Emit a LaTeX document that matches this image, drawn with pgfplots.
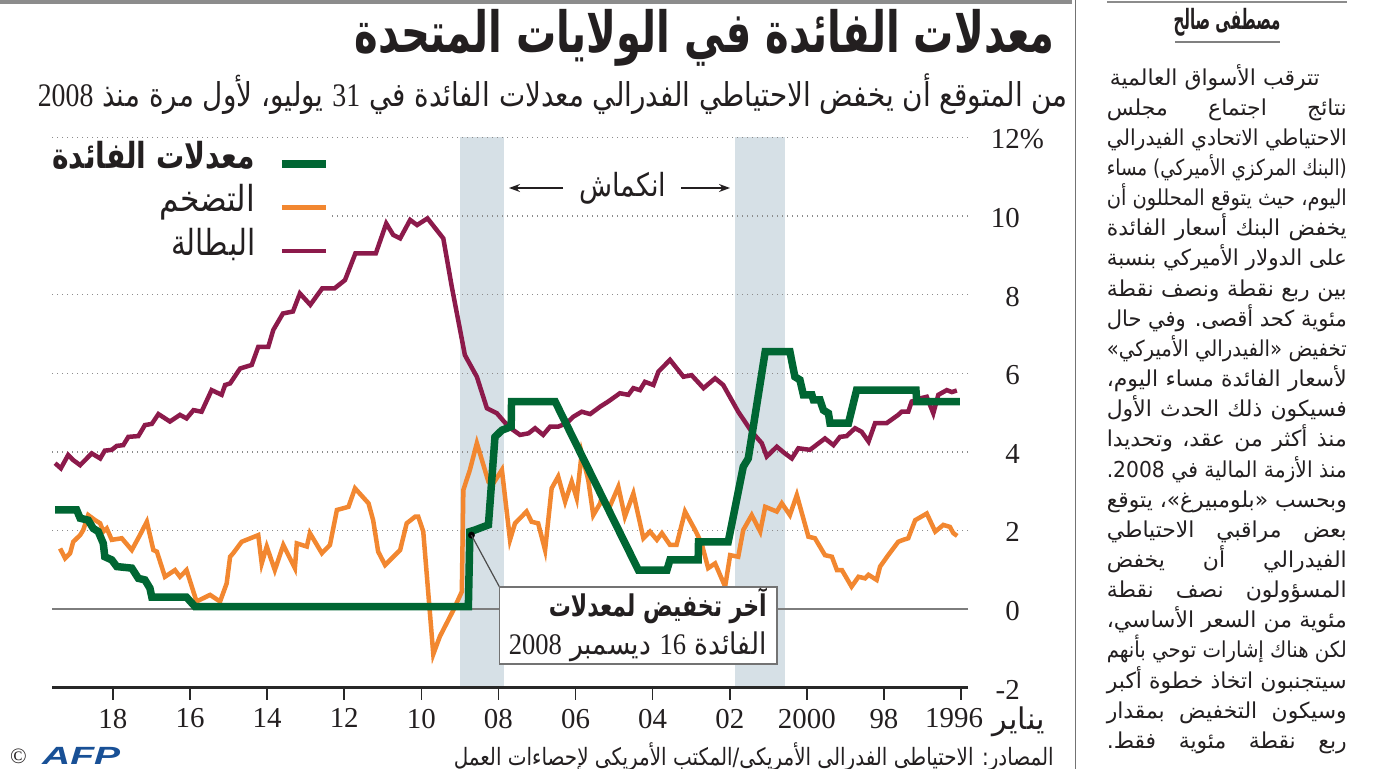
\documentclass[border=0pt]{standalone}
\usepackage{fontspec}
\usepackage{graphicx}
\usepackage{pgfplots}
\pgfplotsset{compat=1.18}
\usetikzlibrary{arrows.meta}
\setmainfont{Liberation Serif}
\setsansfont{Liberation Sans}
\newfontfamily\arabicfont[Script=Arabic]{DejaVu Sans}
\TeXXeTstate=1
\definecolor{fedgreen}{RGB}{0,102,51}
\definecolor{infl}{RGB}{242,135,48}
\definecolor{unemp}{RGB}{140,26,75}
\definecolor{bandcol}{RGB}{214,224,230}
\definecolor{gridgray}{RGB}{140,140,140}
\definecolor{zerogray}{RGB}{125,125,125}
\definecolor{txt}{RGB}{35,31,32}
\definecolor{axisdark}{RGB}{40,40,40}
\definecolor{afpblue}{RGB}{24,80,150}
\newsavebox\artbox
\newcommand\artline[4]{%
  \node[anchor=base east, inner sep=0pt, text=txt] at (#2,#1) {%
    \fontsize{22}{22}\arabicfont
    \sbox\artbox{#4}%
    \ifdim\wd\artbox>#3\relax
      \resizebox{#3}{\height}{\usebox\artbox}%
    \else
      \spaceskip=0.3em plus 1fil\relax
      \hbox to #3{#4}%
    \fi};}
\begin{document}
\begin{tikzpicture}
\begin{scope}[x=1bp,y=-1bp]
\draw[line width=3bp, black!45] (0,2) -- (1072,2);
\draw[line width=1bp, black!55] (1075,0) -- (1075,769);
\draw[line width=2.5bp, black!45] (1107,2) -- (1347,2);
\node[anchor=base east, inner sep=0pt, text=txt] at (1055,53) {\resizebox{700bp}{\height}{\fontsize{57}{57}\arabicfont\bfseries\beginR معدلات الفائدة في الولايات المتحدة\endR}};
\node[anchor=base east, inner sep=0pt, text=txt] at (1068,107) {\resizebox{1030bp}{\height}{\fontsize{33}{33}\arabicfont\beginR من المتوقع أن يخفض الاحتياطي الفدرالي معدلات الفائدة في {\rmfamily 31} يوليو، لأول مرة منذ {\rmfamily 2008}\endR}};
\end{scope}

\begin{axis}[
  at={(52bp,-687.6bp)}, anchor=south west,
  scale only axis, width=916bp, height=550.2bp,
  x dir=reverse,
  xmin=1995.82, xmax=2019.58, ymin=-2, ymax=12,
  set layers,
  axis x line*=bottom, axis y line*=right,
  x axis line style={-, line width=2.6bp, draw=axisdark},
  y axis line style={draw=none},
  xtick={1996,1998,...,2018},
  xticklabels={1996\hspace*{14bp},98,2000,02,04,06,08,10,12,14,16,18},
  ytick={-2,0,...,12},
  yticklabels={-2,0,2,4,6,8,10,12\rlap{\%}},
  tick align=outside,
  major tick length=12bp,
  xtick style={line width=1.6bp, draw=axisdark},
  ytick style={draw=none},
  ymajorgrids,
  major grid style={line width=1.4bp, draw=gridgray, dash pattern=on 1.3bp off 3.7bp},
  xticklabel style={font=\fontsize{29}{29}\selectfont, text=txt, inner sep=0pt, anchor=north, yshift=-9bp},
  yticklabel style={font=\fontsize{29}{29}\selectfont, text=txt, inner sep=0pt, anchor=east, xshift=40bp, yshift=-2bp},
  legend style={at={(0,0.9953)}, anchor=north west, draw=none, fill=white,
     inner xsep=0pt, inner ysep=0pt, row sep=0pt, column sep=23bp,
     nodes={inner sep=0pt, text height=28bp, text depth=15.5bp, text=txt}},
  reverse legend,
  legend plot pos=right,
  legend cell align=right,
  legend image code/.code={\draw[#1] (0bp,-2bp) -- (44bp,-2bp);},
]
\addplot[forget plot, draw=none, fill=bandcol, on layer=axis background] coordinates {(2007.855,-2) (2007.855,12) (2008.996,12) (2008.996,-2)};
\addplot[forget plot, draw=none, fill=bandcol, on layer=axis background] coordinates {(2000.57,-2) (2000.57,12) (2001.86,12) (2001.86,-2)};
\addplot[forget plot, zerogray, line width=1.3bp] coordinates {(1995.82,0) (2019.58,0)};
\addplot[unemp, line width=4.5bp] coordinates {
(2019.50,3.71) (2019.35,3.58) (2019.16,3.92) (2019.03,3.79) (2018.85,3.66) (2018.55,3.96)
(2018.33,3.83) (2018.21,4.03) (2018.03,4.05) (2017.90,4.15) (2017.73,4.17) (2017.60,4.38)
(2017.34,4.40) (2017.17,4.68) (2016.99,4.71) (2016.82,4.96) (2016.52,4.77) (2016.26,4.94)
(2016.09,4.85) (2015.91,5.06) (2015.70,5.02) (2015.44,5.57) (2015.18,5.45) (2015.09,5.70)
(2014.96,5.74) (2014.70,6.12) (2014.40,6.21) (2014.23,6.67) (2013.97,6.67) (2013.84,7.10)
(2013.59,7.52) (2013.33,7.57) (2013.15,8.03) (2012.88,7.74) (2012.57,8.16) (2012.25,8.16)
(2011.98,8.37) (2011.71,9.05) (2011.18,9.05) (2010.91,9.81) (2010.73,9.52) (2010.55,9.43)
(2010.29,9.90) (2010.11,9.77) (2009.84,9.94) (2009.43,9.43) (2009.21,8.20) (2008.87,6.46)
(2008.56,5.91) (2008.30,5.11) (2008.04,4.98) (2007.74,4.64) (2007.44,4.43) (2007.22,4.47)
(2007.05,4.60) (2006.84,4.43) (2006.66,4.64) (2006.45,4.64) (2006.23,4.73) (2006.06,4.89)
(2005.84,5.02) (2005.62,4.96) (2005.36,5.15) (2005.15,5.28) (2004.85,5.49) (2004.63,5.45)
(2004.50,5.62) (2004.33,5.57) (2004.20,5.78) (2003.98,5.70) (2003.85,6.04) (2003.55,6.34)
(2003.20,5.91) (2002.99,5.95) (2002.68,5.62) (2002.38,5.87) (2002.17,5.70) (2001.78,5.02)
(2001.43,4.51) (2001.17,4.22) (2001.04,3.88) (2000.78,4.13) (2000.57,3.96) (2000.39,3.83)
(2000.22,4.09) (1999.92,4.05) (1999.53,4.34) (1999.31,4.17) (1999.14,4.38) (1998.97,4.40)
(1998.75,4.60) (1998.58,4.51) (1998.40,4.26) (1998.23,4.73) (1997.93,4.73) (1997.63,4.94)
(1997.54,5.02) (1997.37,5.02) (1997.28,5.28) (1997.06,5.36) (1996.89,5.40) (1996.72,4.98)
(1996.59,5.45) (1996.37,5.57) (1996.24,5.52) (1996.11,5.56)};
\addlegendentry{\resizebox{84bp}{\height}{\fontsize{36}{36}\arabicfont\beginR البطالة\endR}}
\addplot[infl, line width=4.5bp] coordinates {
(2019.37,1.54) (2019.24,1.29) (2019.11,1.42) (2019.03,1.71) (2018.85,1.88) (2018.77,2.01)
(2018.64,2.39) (2018.46,2.26) (2018.33,2.18) (2018.25,1.97) (2018.16,2.05) (2018.03,1.76)
(2017.77,1.80) (2017.51,1.50) (2017.30,1.88) (2017.12,2.22) (2016.95,1.50) (2016.86,1.46)
(2016.65,0.82) (2016.39,0.99) (2016.26,0.82) (2016.09,0.99) (2015.83,0.19) (2015.48,0.36)
(2015.22,0.19) (2015.05,0.65) (2014.96,1.33) (2014.88,1.42) (2014.66,1.71) (2014.23,1.88)
(2014.14,1.16) (2014.01,1.59) (2013.80,0.99) (2013.58,1.63) (2013.28,1.04) (2013.23,1.67)
(2012.97,1.59) (2012.89,1.93) (2012.58,1.42) (2012.37,1.63) (2012.19,2.52) (2011.89,2.60)
(2011.72,3.07) (2011.37,2.69) (2011.25,2.26) (2011.12,1.46) (2010.94,1.12) (2010.55,1.50)
(2010.38,2.18) (2010.16,2.35) (2010.08,2.35) (2009.95,1.97) (2009.69,-1.15) (2009.52,-0.70)
(2009.17,-0.03) (2008.95,0.44) (2008.91,3.03) (2008.74,3.54) (2008.56,4.22) (2008.26,3.24)
(2008.13,3.20) (2007.91,3.54) (2007.70,1.76) (2007.57,2.18) (2007.27,2.48) (2007.14,2.22)
(2006.97,2.18) (2006.79,1.50) (2006.62,3.07) (2006.45,3.37) (2006.27,2.73) (2006.10,3.24)
(2005.97,2.82) (2005.84,3.96) (2005.67,3.28) (2005.54,2.39) (2005.36,2.69) (2005.32,2.86)
(2005.15,2.52) (2004.89,3.11) (2004.72,2.35) (2004.50,2.94) (2004.24,1.80) (2004.07,1.97)
(2003.89,1.76) (2003.76,1.93) (2003.55,1.63) (2003.38,1.63) (2003.16,2.48) (2002.90,2.01)
(2002.73,1.67) (2002.56,1.04) (2002.38,1.16) (2002.12,0.57) (2001.99,1.37) (2001.78,1.33)
(2001.65,2.01) (2001.43,2.39) (2001.21,1.97) (2001.08,2.60) (2000.78,2.48) (2000.65,2.69)
(2000.44,2.39) (2000.26,2.90) (1999.96,1.84) (1999.79,1.80) (1999.53,1.37) (1999.35,1.33)
(1999.22,0.99) (1999.09,0.99) (1998.84,0.57) (1998.66,0.82) (1998.49,0.78) (1998.40,0.87)
(1998.19,0.74) (1998.10,1.08) (1997.89,1.37) (1997.63,1.71) (1997.50,1.76) (1997.37,1.80)
(1997.19,2.26) (1996.89,2.43) (1996.67,1.97) (1996.46,2.14) (1996.29,2.09) (1996.20,1.93)
(1996.10,1.86)};
\addlegendentry{\resizebox{96bp}{\height}{\fontsize{36}{36}\arabicfont\beginR التضخم\endR}}
\addplot[fedgreen, line width=7.5bp] coordinates {
(2019.50,2.52) (2018.94,2.52) (2018.85,2.31) (2018.64,2.26) (2018.51,2.05) (2018.38,1.97)
(2018.25,1.67) (2018.21,1.33) (2018.03,1.25) (2017.90,1.08) (2017.51,1.04) (2017.34,0.78)
(2017.17,0.74) (2017.04,0.53) (2016.99,0.30) (2016.09,0.30) (2015.87,0.06) (2008.78,0.06)
(2008.74,1.97) (2008.61,2.01) (2008.26,2.14) (2008.09,4.38) (2007.91,4.55) (2007.67,4.64)
(2007.66,5.28) (2006.53,5.28) (2004.37,0.99) (2003.63,0.99) (2003.55,1.25) (2002.82,1.25)
(2002.81,1.71) (2002.04,1.71) (2001.65,3.62) (2001.52,3.83) (2001.08,6.55) (2000.44,6.55)
(2000.31,5.91) (2000.18,5.83) (2000.09,5.45) (1999.87,5.45) (1999.83,5.32) (1999.66,5.32)
(1999.57,5.06) (1999.44,4.98) (1999.40,4.73) (1998.92,4.73) (1998.71,5.57) (1997.17,5.57)
(1997.15,5.28) (1996.03,5.28)};
\addlegendentry{\resizebox{203bp}{\height}{\fontsize{36}{36}\arabicfont\bfseries\beginR معدلات الفائدة\endR}}
\addplot[forget plot, only marks, mark=*, mark size=3.2bp, black] coordinates {(2008.70,1.88)};
\coordinate (dot) at (axis cs:2008.70,1.88);
\end{axis}

\begin{scope}[x=1bp,y=-1bp]
\draw[black!70, line width=1.2bp] (dot) -- (499.5,587);
\draw[black!55, line width=1.3bp, fill=white] (499.5,587) rectangle (777,664);
\node[anchor=base east, inner sep=0pt, text=txt] at (767,616) {\resizebox{218bp}{\height}{\fontsize{30}{30}\arabicfont\bfseries\beginR آخر تخفيض لمعدلات\endR}};
\node[anchor=base east, inner sep=0pt, text=txt] at (767,654) {\resizebox{258bp}{\height}{\fontsize{30}{30}\arabicfont\beginR الفائدة {\rmfamily 16} ديسمبر {\rmfamily 2008}\endR}};
\draw[-{Stealth[length=11bp,width=8bp]}, line width=1.3bp, txt] (563,188) -- (509,188);
\draw[-{Stealth[length=11bp,width=8bp]}, line width=1.3bp, txt] (681,188) -- (730,188);
\node[inner sep=0pt, text=txt] at (623,188) {\resizebox{87bp}{\height}{\fontsize{32}{32}\arabicfont\beginR انكماش\endR}};
\node[anchor=base east, inner sep=0pt, text=txt] at (1045,729) {\resizebox{52bp}{\height}{\fontsize{30}{30}\arabicfont\beginR يناير\endR}};
\node[anchor=base east, inner sep=0pt, text=txt] at (1054,765) {\resizebox{600bp}{\height}{\fontsize{24}{24}\arabicfont\beginR المصادر: الاحتياطي الفدرالي الأمريكي/المكتب الأمريكي لإحصاءات العمل\endR}};
\node[anchor=base west, inner sep=0pt, text=txt] at (10,763) {\fontsize{22}{22}\selectfont ©};
\node[anchor=base west, inner sep=0pt, text=afpblue] at (42,764) {\resizebox{78bp}{\height}{\fontsize{25}{25}\sffamily\bfseries\itshape AFP}};
\node[anchor=base, inner sep=0pt, text=txt] at (1227,29) {\resizebox{107bp}{\height}{\fontsize{28}{28}\arabicfont\bfseries\beginR مصطفى صالح\endR}};
\draw[line width=1.6bp, black!50] (1175,42) -- (1280,42);
\artline{85.0}{1320}{210bp}{\beginR تترقب الأسواق العالمية\endR}
\artline{115.2}{1347}{240bp}{\beginR نتائج اجتماع مجلس\endR}
\artline{145.3}{1347}{240bp}{\beginR الاحتياطي الاتحادي الفيدرالي\endR}
\artline{175.5}{1347}{240bp}{\beginR (البنك المركزي الأميركي) مساء\endR}
\artline{205.6}{1347}{240bp}{\beginR اليوم، حيث يتوقع المحللون أن\endR}
\artline{235.8}{1347}{240bp}{\beginR يخفض البنك أسعار الفائدة\endR}
\artline{265.9}{1347}{240bp}{\beginR على الدولار الأميركي بنسبة\endR}
\artline{296.1}{1347}{240bp}{\beginR بين ربع نقطة ونصف نقطة\endR}
\artline{326.2}{1347}{240bp}{\beginR مئوية كحد أقصى. وفي حال\endR}
\artline{356.4}{1347}{240bp}{\beginR تخفيض «الفيدرالي الأميركي»\endR}
\artline{386.5}{1347}{240bp}{\beginR لأسعار الفائدة مساء اليوم،\endR}
\artline{416.7}{1347}{240bp}{\beginR فسيكون ذلك الحدث الأول\endR}
\artline{446.8}{1347}{240bp}{\beginR منذ أكثر من عقد، وتحديدا\endR}
\artline{477.0}{1347}{240bp}{\beginR منذ الأزمة المالية في 2008.\endR}
\artline{507.1}{1347}{240bp}{\beginR وبحسب «بلومبيرغ»، يتوقع\endR}
\artline{537.3}{1347}{240bp}{\beginR بعض مراقبي الاحتياطي\endR}
\artline{567.4}{1347}{240bp}{\beginR الفيدرالي أن يخفض\endR}
\artline{597.6}{1347}{240bp}{\beginR المسؤولون نصف نقطة\endR}
\artline{627.7}{1347}{240bp}{\beginR مئوية من السعر الأساسي،\endR}
\artline{657.9}{1347}{240bp}{\beginR لكن هناك إشارات توحي بأنهم\endR}
\artline{688.0}{1347}{240bp}{\beginR سيتجنبون اتخاذ خطوة أكبر\endR}
\artline{718.2}{1347}{240bp}{\beginR وسيكون التخفيض بمقدار\endR}
\artline{748.3}{1347}{240bp}{\beginR ربع نقطة مئوية فقط.\endR}
\end{scope}
\pgfresetboundingbox
\path[use as bounding box] (0bp,0bp) rectangle (1373bp,-769bp);
\end{tikzpicture}
\end{document}
